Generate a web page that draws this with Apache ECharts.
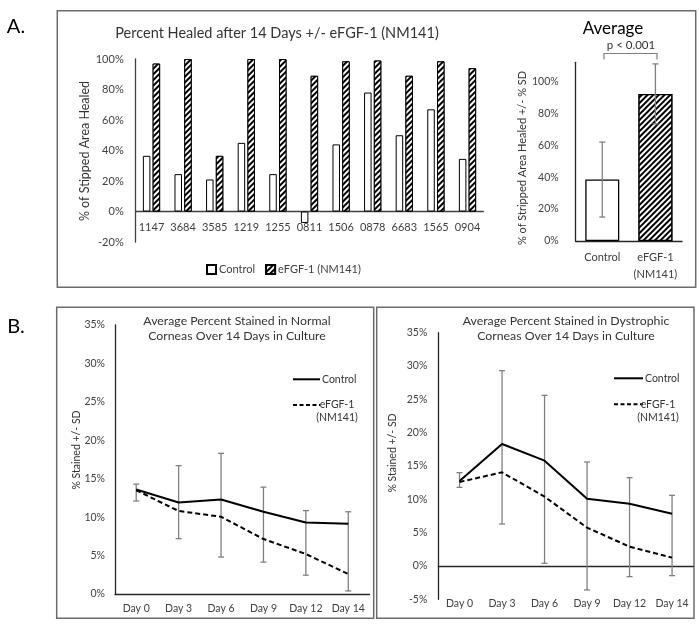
<!DOCTYPE html>
<html>
<head>
<meta charset="utf-8">
<script src="https://cdn.jsdelivr.net/npm/echarts@6/dist/echarts.min.js"></script>
<style>
  html, body { margin: 0; padding: 0; background: #fff; }
  #chart { width: 699px; height: 629px; }
</style>
</head>
<body>
<div id="chart"></div>
<script>
// panel A, per-cornea values (% healed)
const barCats = ['1147', '3684', '3585', '1219', '1255', '0811', '1506', '0878', '6683', '1565', '0904'];
const barControl = [36.5, 24.5, 21, 45, 24.5, -7.5, 44, 78, 50, 67, 34.5];
const barEfgf = [97, 100, 36.5, 100, 100, 89, 98.5, 99, 89, 98.5, 94];

// panel A, averages
const avgCats = ['Control', 'eFGF-1\n(NM141)'];
const avgMeans = [38.5, 92.2];
const avgSD = [23.5, 18.8];

// panel B
const dayCats = ['Day 0', 'Day 3', 'Day 6', 'Day 9', 'Day 12', 'Day 14'];
const normControl = [13.6, 11.9, 12.3, 10.7, 9.3, 9.15];
const normEfgf = [13.5, 10.8, 10.05, 7.15, 5.2, 2.6];
const normErrHigh = [14.3, 16.7, 18.3, 13.9, 10.85, 10.7];
const normErrLow = [12.1, 7.2, 4.8, 4.15, 2.45, 0.4];
const dysControl = [12.75, 18.3, 15.8, 10.1, 9.35, 7.85];
const dysEfgf = [12.6, 14.05, 10.4, 5.75, 2.9, 1.25];
const dysErrHigh = [14.0, 29.3, 25.6, 15.6, 13.25, 10.6];
const dysErrLow = [11.8, 6.3, 0.4, -3.6, -1.6, -1.45];

const FONT = 'Lato';
const hatch = {
  symbol: 'rect', symbolSize: 1,
  dashArrayX: [1, 0], dashArrayY: [1.4, 1.9],
  rotation: -Math.PI / 4,
  color: '#000', backgroundColor: '#fff'
};

function errorBar(color) {
  return function (params, api) {
    const lo = api.coord([api.value(0), api.value(1)]);
    const hi = api.coord([api.value(0), api.value(2)]);
    const st = { stroke: color, lineWidth: 1.3 };
    return {
      type: 'group',
      children: [
        { type: 'line', shape: { x1: lo[0], y1: lo[1], x2: hi[0], y2: hi[1] }, style: st },
        { type: 'line', shape: { x1: lo[0] - 3, y1: lo[1], x2: lo[0] + 3, y2: lo[1] }, style: st },
        { type: 'line', shape: { x1: hi[0] - 3, y1: hi[1], x2: hi[0] + 3, y2: hi[1] }, style: st }
      ]
    };
  };
}

function catAxis(grid, data, margin, size, color, lh) {
  return {
    gridIndex: grid, type: 'category', data: data,
    axisLine: { lineStyle: { color: color, width: 1.3 } },
    axisTick: { show: false },
    axisLabel: { interval: 0, margin: margin, fontSize: size, color: '#404040', fontFamily: FONT, lineHeight: lh || 17 }
  };
}
function valAxis(grid, min, max, interval, margin, size, color, fmt) {
  return {
    gridIndex: grid, type: 'value', min: min, max: max, interval: interval,
    splitLine: { show: false },
    axisLine: { show: true, lineStyle: { color: color, width: 1.3 } },
    axisTick: { show: false },
    axisLabel: { margin: margin, fontSize: size, color: '#404040', fontFamily: FONT, formatter: fmt }
  };
}

const txt = (x, y, text, size, extra) => ({
  type: 'text', x: x, y: y,
  style: Object.assign({ text: text, fontSize: size, fontFamily: FONT, fill: '#333',
    textAlign: 'center', textVerticalAlign: 'middle' }, extra || {})
});
const vtxt = (x, y, text, size) => ({
  type: 'text', x: x, y: y, rotation: Math.PI / 2,
  style: { text: text, fontSize: size, fontFamily: FONT, fill: '#333', textAlign: 'center', textVerticalAlign: 'middle' }
});
const box = (x, y, w, h) => ({
  type: 'rect', shape: { x: x, y: y, width: w, height: h },
  style: { fill: 'none', stroke: '#6b6b6b', lineWidth: 1.5 }
});
const seg = (x1, y1, x2, y2, dash) => ({
  type: 'line', shape: { x1: x1, y1: y1, x2: x2, y2: y2 },
  style: { stroke: '#000', lineWidth: 2, lineDash: dash || null }
});

const gridBase = { outerBoundsMode: 'none', containLabel: false };

const chart = echarts.init(document.getElementById('chart'));
chart.setOption({
  animation: false,
  textStyle: { fontFamily: FONT },
  grid: [
    Object.assign({ left: 135.7, top: 59, width: 347.6, height: 183 }, gridBase),
    Object.assign({ left: 575.7, top: 62.3, width: 106.3, height: 178.7 }, gridBase),
    Object.assign({ left: 115, top: 325, width: 254.5, height: 269 }, gridBase),
    Object.assign({ left: 438.3, top: 332.7, width: 255, height: 266.6 }, gridBase)
  ],
  xAxis: [
    catAxis(0, barCats, -21, 11, '#404040', 13),
    catAxis(1, avgCats, 8, 11, '#262626'),
    catAxis(2, dayCats, 6.5, 10.5, '#262626'),
    catAxis(3, dayCats, -4, 10.5, '#262626')
  ],
  yAxis: [
    valAxis(0, -20, 100, 20, 12, 11, '#404040', '{value}%'),
    valAxis(1, 0, 112, 20, 17, 10.5, '#262626', v => (v > 100 ? '' : v + '%')),
    valAxis(2, 0, 35, 5, 10, 10.5, '#262626', '{value}%'),
    valAxis(3, -5, 35, 5, 11, 10.5, '#262626', '{value}%')
  ],
  legend: {
    left: 201, top: 259, itemWidth: 9, itemHeight: 9, itemGap: 10,
    selectedMode: false, icon: 'rect',
    textStyle: { fontSize: 11, color: '#404040', fontFamily: FONT, padding: [0, 0, 0, -2] },
    data: ['Control', 'eFGF-1 (NM141)']
  },
  series: [
    {
      name: 'Control', type: 'bar', xAxisIndex: 0, yAxisIndex: 0,
      data: barControl, barWidth: 7.5, barGap: '30%',
      itemStyle: { color: '#fff', borderColor: '#000', borderWidth: 1 }
    },
    {
      name: 'eFGF-1 (NM141)', type: 'bar', xAxisIndex: 0, yAxisIndex: 0,
      data: barEfgf, barWidth: 7.5,
      itemStyle: { color: '#fff', borderColor: '#000', borderWidth: 1, decal: hatch }
    },
    {
      name: 'avg', type: 'bar', xAxisIndex: 1, yAxisIndex: 1, barWidth: 34,
      data: avgMeans.map((m, i) => ({
        value: m,
        itemStyle: i === 0
          ? { color: '#fff', borderColor: '#000', borderWidth: 1.3 }
          : { color: '#fff', borderColor: '#000', borderWidth: 1.3, decal: hatch }
      }))
    },
    {
      name: 'avgErr', type: 'custom', xAxisIndex: 1, yAxisIndex: 1, z: 5,
      renderItem: errorBar('#7f7f7f'),
      encode: { x: 0, y: [1, 2] },
      data: avgMeans.map((m, i) => [i, m - avgSD[i], m + avgSD[i]])
    },
    {
      name: 'normErr', type: 'custom', xAxisIndex: 2, yAxisIndex: 2,
      renderItem: errorBar('#808080'),
      encode: { x: 0, y: [1, 2] },
      data: dayCats.map((d, i) => [i, normErrLow[i], normErrHigh[i]])
    },
    {
      name: 'Normal control', type: 'line', xAxisIndex: 2, yAxisIndex: 2, z: 4,
      data: normControl, symbol: 'none', lineStyle: { color: '#000', width: 2 }
    },
    {
      name: 'Normal eFGF', type: 'line', xAxisIndex: 2, yAxisIndex: 2, z: 4,
      data: normEfgf, symbol: 'none', lineStyle: { color: '#000', width: 2, type: [5, 3] }
    },
    {
      name: 'dysErr', type: 'custom', xAxisIndex: 3, yAxisIndex: 3,
      renderItem: errorBar('#808080'),
      encode: { x: 0, y: [1, 2] },
      data: dayCats.map((d, i) => [i, dysErrLow[i], dysErrHigh[i]])
    },
    {
      name: 'Dystrophic control', type: 'line', xAxisIndex: 3, yAxisIndex: 3, z: 4,
      data: dysControl, symbol: 'none', lineStyle: { color: '#000', width: 2 }
    },
    {
      name: 'Dystrophic eFGF', type: 'line', xAxisIndex: 3, yAxisIndex: 3, z: 4,
      data: dysEfgf, symbol: 'none', lineStyle: { color: '#000', width: 2, type: [5, 3] }
    }
  ],
  graphic: [
    box(57.3, 10.7, 638.4, 276.6),
    box(56.7, 307.3, 317, 311),
    box(376.7, 307.3, 317.3, 311),
    txt(16, 27, 'A.', 20, { fill: '#000' }),
    txt(16, 327, 'B.', 20, { fill: '#000' }),
    txt(277, 33, 'Percent Healed after 14 Days +/- eFGF-1 (NM141)', 14.5),
    vtxt(85, 151, '% of Stipped Area Healed', 12.5),
    txt(613, 29, 'Average', 17, { fill: '#000' }),
    txt(631, 45, 'p < 0.001', 11.5),
    {
      type: 'polyline',
      shape: { points: [[604, 59.5], [604, 53.5], [657, 53.5], [657, 59.5]] },
      style: { stroke: '#7f7f7f', lineWidth: 1.2, fill: 'none' }
    },
    vtxt(522, 158, '% of Stripped Area Healed +/- % SD', 11),
    txt(237, 329, 'Average Percent Stained in Normal\nCorneas Over 14 Days in Culture', 12.3, { lineHeight: 15 }),
    txt(566, 329, 'Average Percent Stained in Dystrophic\nCorneas Over 14 Days in Culture', 12.3, { lineHeight: 15 }),
    vtxt(77, 450, '% Stained +/- SD', 10.5),
    vtxt(393, 453, '% Stained +/- SD', 10.5),
    seg(293, 379.3, 320, 379.3),
    txt(322, 379.3, 'Control', 10.5, { textAlign: 'left' }),
    seg(293, 405, 320, 405, [4, 2.5]),
    txt(337, 411.5, 'eFGF-1\n(NM141)', 10.5, { lineHeight: 13 }),
    seg(614, 378.3, 643, 378.3),
    txt(645, 378.3, 'Control', 10.5, { textAlign: 'left' }),
    seg(614, 404.3, 643, 404.3, [4, 2.5]),
    txt(658, 410.8, 'eFGF-1\n(NM141)', 10.5, { lineHeight: 13 })
  ]
});
</script>
</body>
</html>
